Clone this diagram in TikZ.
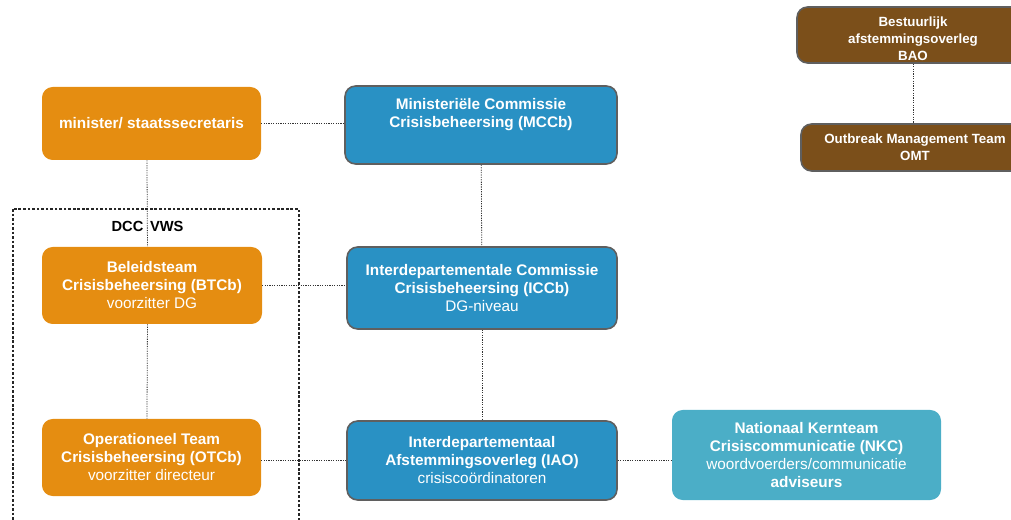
\documentclass[tikz,border=0pt]{standalone}
\usepackage{fontspec}
\setmainfont{Liberation Sans}
\usetikzlibrary{positioning}

\begin{document}
\begin{tikzpicture}[x=0.75pt,y=-0.75pt]
  % Colors
  \definecolor{vwscolor}{RGB}{229,141,17}
  \definecolor{rijkcolor}{RGB}{41,145,196}
  \definecolor{nkccolor}{RGB}{75,174,199}
  \definecolor{bestuurcolor}{RGB}{123,79,26}
  \definecolor{randcolor}{RGB}{95,95,95}

  % Styles
  \tikzstyle{blok}=[rounded corners=8pt,text=white,align=center,inner sep=2pt,
    font=\fontsize{11.5}{13.5}\selectfont\bfseries]
  \tikzstyle{vws blok}=[blok,fill=vwscolor]
  \tikzstyle{rijk blok}=[blok,fill=rijkcolor,draw=randcolor,line width=1.2pt]
  \tikzstyle{nkc blok}=[blok,fill=nkccolor]
  \tikzstyle{bestuur blok}=[blok,fill=bestuurcolor,draw=randcolor,line width=1.2pt,
    font=\fontsize{10}{12.5}\selectfont\bfseries]
  \tikzstyle{lijn}=[draw=black!80,line width=0.6pt,dash pattern=on 0.9pt off 0.9pt]
  \tikzstyle{kader}=[draw=black!85,line width=0.8pt,dash pattern=on 2pt off 1.4pt]

  \useasboundingbox (0,0) rectangle (1011,520);

  % DCC VWS frame
  \draw[kader] (13,209) rectangle (299,530);

  % The boxes
  \node[vws blok,minimum width=164.25pt,minimum height=54.75pt] (minister)
    at (151.5,123.5) {minister/ staatssecretaris};
  \node[vws blok,minimum width=165pt,minimum height=57.75pt] (btcb)
    at (152,285.5) {Beleidsteam\\Crisisbeheersing (BTCb)\\\mdseries voorzitter DG};
  \node[vws blok,minimum width=164.25pt,minimum height=57.75pt] (otcb)
    at (151.5,457.5) {Operationeel Team\\Crisisbeheersing (OTCb)\\\mdseries voorzitter directeur};

  \node[rijk blok,minimum width=204pt,minimum height=58.5pt] (mccb)
    at (481,125) {Ministeriële Commissie\\Crisisbeheersing (MCCb)\\\strut};
  \node[rijk blok,minimum width=202.5pt,minimum height=61.5pt] (iccb)
    at (482,288) {Interdepartementale Commissie\\Crisisbeheersing (ICCb)\\\mdseries DG-niveau};
  \node[rijk blok,minimum width=202.5pt,minimum height=59.25pt] (iao)
    at (482,460.5) {Interdepartementaal\\Afstemmingsoverleg (IAO)\\\mdseries crisiscoördinatoren};

  \node[nkc blok,minimum width=201.75pt,minimum height=67.5pt] (nkc)
    at (806.5,455) {Nationaal Kernteam\\Crisiscommunicatie (NKC)\\\mdseries woordvoerders/communicatie\\adviseurs};

  \node[bestuur blok,inner ysep=0pt,minimum width=174pt,minimum height=42pt] (bao)
    at (913,35) {\rule{0pt}{13pt}Bestuurlijk\\afstemmingsoverleg\\BAO};
  \node[bestuur blok,minimum width=171pt,minimum height=35.25pt] (omt)
    at (915,147.5) {Outbreak Management Team\\OMT};

  \node[font=\fontsize{11}{13}\selectfont\bfseries] (dcc) at (147.5,226) {DCC\hspace{5pt}VWS};

  % Connections
  \draw[lijn] (minister) -- (mccb.west |- minister);
  \draw[lijn] ([xshift=-3.4pt]minister.south) -- ([xshift=-3.4pt]btcb.north);
  \draw[lijn] ([xshift=-3.4pt]btcb.south) -- ([xshift=-3.4pt]otcb.north);
  \draw[lijn] (btcb) -- (iccb.west |- btcb);
  \draw[lijn] (otcb.east |- iao) -- (iao);
  \draw[lijn] (iao) -- (nkc.west |- iao);
  \draw[lijn] (mccb) -- (iccb);
  \draw[lijn] (iccb) -- (iao);
  \draw[lijn] (bao) -- (omt.north -| bao);
\end{tikzpicture}
\end{document}
